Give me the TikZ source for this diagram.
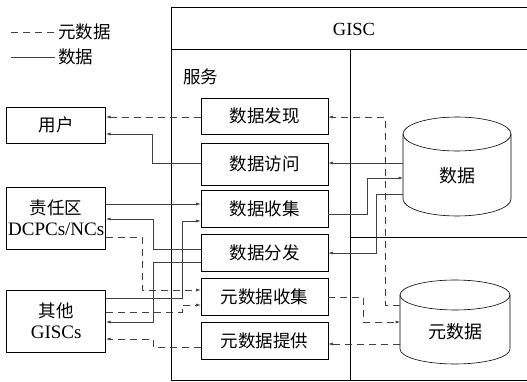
\documentclass[tikz,border=0pt]{standalone}
\usepackage{fontspec}
\setmainfont{Liberation Serif}
\newfontfamily\cjk{Noto Sans CJK SC}
\usetikzlibrary{arrows.meta}
\begin{document}
\begin{tikzpicture}[x=1pt,y=-1pt,
  txt/.style={inner sep=0pt, font=\cjk\fontsize{17.5}{21}\selectfont, align=center},
  box/.style={txt, draw, line width=0.6pt},
  svc/.style={box, minimum width=127pt, minimum height=37pt},
  ext/.style={box, minimum width=99pt},
  frame/.style={line width=0.6pt},
  conn/.style={line width=0.6pt, draw=black!75},
  arr/.style={conn, -{Latex[length=4.5pt,width=3pt]}},
  meta/.style={dash pattern=on 7pt off 5pt}
]
\useasboundingbox (0,0) rectangle (527,382);
\fill[white] (0,0) rectangle (527,382);

% frame
\draw[frame] (530,7) -- (171,7) -- (171,380) -- (530,380);
\draw[frame] (171,49) -- (530,49);
\draw[frame] (350,49) -- (350,380);
\draw[frame] (350,237) -- (530,237);
\node[txt, font=\rmfamily\fontsize{18.5}{20}\selectfont] (gisc) at (354,29) {GISC};
\node[txt, anchor=west] (svc) at (183,77) {服务};

% legend
\node[txt, anchor=west] (lgm) at (58,32) {元数据};
\node[txt, anchor=west] (lgd) at (58,57) {数据};
\coordinate (lgm0) at (11,32);
\coordinate (lgd0) at (11,57);
\draw[conn, meta] (lgm0) -- (lgm.west);
\draw[conn] (lgd0) -- ([xshift=-3pt]lgd.west);

% external boxes
\node[ext, minimum height=36pt] (user) at (56.2,125) {用户};
\node[ext, minimum height=62pt] (resp) at (56.2,218) {责任区\\{\rmfamily\fontsize{19}{21}\selectfont DCPCs/NCs}};
\node[ext, minimum height=62pt] (other) at (56.2,321) {其他\\{\rmfamily\fontsize{19}{21}\selectfont GISCs}};

% service boxes
\node[svc, minimum height=36pt] (disc) at (264.5,116) {数据发现};
\node[svc, minimum height=42pt] (acc) at (264.5,164) {数据访问};
\node[svc] (coll) at (264.5,208.5) {数据收集};
\node[svc] (dist) at (264.5,252.5) {数据分发};
\node[svc] (mcoll) at (264.5,296.5) {元数据收集};
\node[svc] (mprov) at (264.5,340.5) {元数据提供};

% cylinders
\draw[frame] (403,134) -- (403,199) arc[start angle=180, end angle=0, x radius=54, y radius=17] -- (511,134);
\draw[frame] (457,134) ellipse[x radius=54, y radius=17];
\node[txt, font=\cjk\fontsize{18}{20}\selectfont] (db) at (457,176) {数据};
\draw[frame] (400,295) -- (400,349) arc[start angle=180, end angle=0, x radius=55, y radius=15] -- (510,295);
\draw[frame] (455,295) ellipse[x radius=55, y radius=15];
\node[txt, font=\cjk\fontsize{18}{20}\selectfont] (mdb) at (455,332) {元数据};

\coordinate (d1) at (403,163);
\coordinate (d2) at (403,178);
\coordinate (d3) at (403,194);
\coordinate (m1) at (400,305);
\coordinate (m2) at (400,322);
\coordinate (m3) at (400,344);

% connectors
\draw[arr, meta] (disc.west |- 0,117) -- (user.east |- 0,117);
\draw[arr, meta] (m1) -- (385,305) -- (385,117) -- (disc.east |- 0,117);
\draw[arr] (d1) -- (acc.east |- d1);
\draw[arr] (acc.west |- 0,163) -- (152,163) -- (152,134) -- (user.east |- 0,134);
\draw[arr] (coll.east |- 0,214) -- (367,214) -- (367,178) -- (d2);
\draw[arr] (d3) -- (376,194) -- (376,253) -- (dist.east |- 0,253);
\draw[arr] (resp.east |- 0,204) -- (coll.west |- 0,204);
\draw[arr] (dist.west |- 0,249) -- (153,249) -- (153,219) -- (resp.east |- 0,219);
\draw[arr] (dist.west |- 0,262) -- (153,262) -- (153,322) -- (other.east |- 0,322);
\draw[arr] (other.east |- 0,298) -- (182,298) -- (182,221) -- (coll.west |- 0,221);
\draw[arr, meta] (resp.east |- 0,237) -- (142,237) -- (142,290) -- (mcoll.west |- 0,290);
\draw[arr, meta] (other.east |- 0,312) -- (182,312) -- (182,305) -- (mcoll.west |- 0,305);
\draw[arr, meta] (mcoll.east |- 0,297) -- (363,297) -- (363,322) -- (m2);
\draw[arr, meta] (m3) -- (mprov.east |- 0,344);
\draw[arr, meta] (mprov.west |- 0,347) -- (153,347) -- (153,339) -- (other.east |- 0,339);
\end{tikzpicture}
\end{document}
